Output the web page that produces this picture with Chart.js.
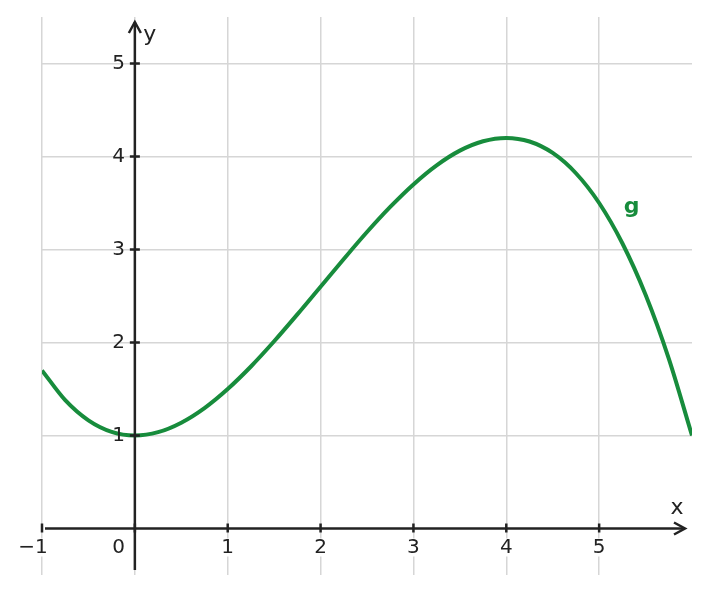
<!DOCTYPE html>
<html>
<head>
<meta charset="utf-8">
<script src="https://cdn.jsdelivr.net/npm/chart.js@4/dist/chart.umd.min.js"></script>
<style>
  html, body { margin: 0; padding: 0; background: #fff; }
  #wrap { width: 710px; height: 593px; }
</style>
</head>
<body>
<div id="wrap"><canvas id="plot"></canvas></div>
<script>
const xs = [-1, -0.75, -0.5, -0.25, 0, 0.25, 0.5, 0.75, 1, 1.25, 1.5, 1.75, 2, 2.25, 2.5, 2.75,
            3, 3.25, 3.5, 3.75, 4, 4.25, 4.5, 4.75, 5, 5.25, 5.5, 5.75, 6];
const gs = [1.7, 1.38, 1.163, 1.039, 1, 1.036, 1.138, 1.295, 1.5, 1.742, 2.013, 2.302, 2.6, 2.898,
            3.188, 3.458, 3.7, 3.905, 4.063, 4.164, 4.2, 4.161, 4.038, 3.82, 3.5, 3.067, 2.513, 1.827, 1];
const xTicks = [-1, 0, 1, 2, 3, 4, 5];
const yTicks = [1, 2, 3, 4, 5];

const green = '#178c3c';
const ink = '#222222';
const font = '20px "DejaVu Sans", sans-serif';

function label(ctx, text, x, y) {
    const w = ctx.measureText(text).width;
    let left = x;
    if (ctx.textAlign === 'center') left = x - w / 2;
    if (ctx.textAlign === 'right') left = x - w;
    ctx.save();
    ctx.fillStyle = '#ffffff';
    ctx.fillRect(left - 1, y - 9, w + 2, 18);
    ctx.restore();
    ctx.fillText(text, x, y);
}

const axesPlugin = {
    id: 'axes',
    afterDatasetsDraw(chart) {
        const ctx = chart.ctx;
        const sx = chart.scales.x, sy = chart.scales.y;
        const ox = sx.getPixelForValue(0), oy = sy.getPixelForValue(0);
        const area = chart.chartArea;
        ctx.save();
        ctx.strokeStyle = ink;
        ctx.fillStyle = ink;
        ctx.lineWidth = 2.5;
        ctx.lineCap = 'butt';

        // x axis
        ctx.beginPath();
        ctx.moveTo(area.left + 3, oy);
        ctx.lineTo(area.right - 7, oy);
        ctx.stroke();
        ctx.beginPath();
        ctx.moveTo(area.right - 18, oy - 6);
        ctx.lineTo(area.right - 7, oy);
        ctx.lineTo(area.right - 18, oy + 6);
        ctx.stroke();

        // y axis
        ctx.beginPath();
        ctx.moveTo(ox, area.bottom - 5);
        ctx.lineTo(ox, area.top + 5);
        ctx.stroke();
        ctx.beginPath();
        ctx.moveTo(ox - 6, area.top + 16);
        ctx.lineTo(ox, area.top + 5);
        ctx.lineTo(ox + 6, area.top + 16);
        ctx.stroke();

        ctx.font = font;
        ctx.textBaseline = 'middle';
        ctx.textAlign = 'center';
        xTicks.forEach(v => {
            const px = sx.getPixelForValue(v);
            ctx.beginPath();
            ctx.moveTo(px, oy - 5);
            ctx.lineTo(px, oy + 4);
            ctx.stroke();
            if (v === 0) return;
            const txt = v < 0 ? '\u2212' + Math.abs(v) : String(v);
            label(ctx, txt, v < 0 ? px - 9 : px, oy + 19);
        });
        ctx.textAlign = 'right';
        label(ctx, '0', ox - 10, oy + 19);
        yTicks.forEach(v => {
            const py = sy.getPixelForValue(v);
            ctx.beginPath();
            ctx.moveTo(ox - 5, py);
            ctx.lineTo(ox + 5, py);
            ctx.stroke();
            ctx.fillText(String(v), ox - 10, py);
        });

        ctx.textAlign = 'center';
        ctx.font = '22px "DejaVu Sans", sans-serif';
        ctx.fillText('x', area.right - 15, oy - 20);
        ctx.fillText('y', ox + 15, area.top + 18);

        ctx.fillStyle = green;
        ctx.font = 'bold 22px "DejaVu Sans", sans-serif';
        ctx.fillText('g', sx.getPixelForValue(5.35), sy.getPixelForValue(3.45));
        ctx.restore();
    }
};

new Chart(document.getElementById('plot'), {
    type: 'scatter',
    data: {
        datasets: [{
            label: 'g',
            data: xs.map((x, i) => ({ x: x, y: gs[i] })),
            showLine: true,
            borderColor: green,
            borderWidth: 4,
            pointRadius: 0,
            tension: 0.4,
            cubicInterpolationMode: 'monotone'
        }]
    },
    options: {
        responsive: true,
        maintainAspectRatio: false,
        animation: false,
        layout: { padding: { left: 42, right: 18, top: 17, bottom: 18 } },
        plugins: { legend: { display: false }, tooltip: { enabled: false } },
        scales: {
            x: {
                type: 'linear', min: -1, max: 6,
                afterBuildTicks(scale) {
                    scale.ticks = xTicks.map(v => ({ value: v }));
                },
                ticks: { display: false },
                grid: { color: '#d6d6d6', lineWidth: 1.5, drawTicks: false },
                border: { display: false }
            },
            y: {
                type: 'linear', min: -0.5, max: 5.5,
                afterBuildTicks(scale) {
                    scale.ticks = yTicks.map(v => ({ value: v }));
                },
                ticks: { display: false },
                grid: { color: '#d6d6d6', lineWidth: 1.5, drawTicks: false },
                border: { display: false }
            }
        }
    },
    plugins: [axesPlugin]
});
</script>
</body>
</html>
